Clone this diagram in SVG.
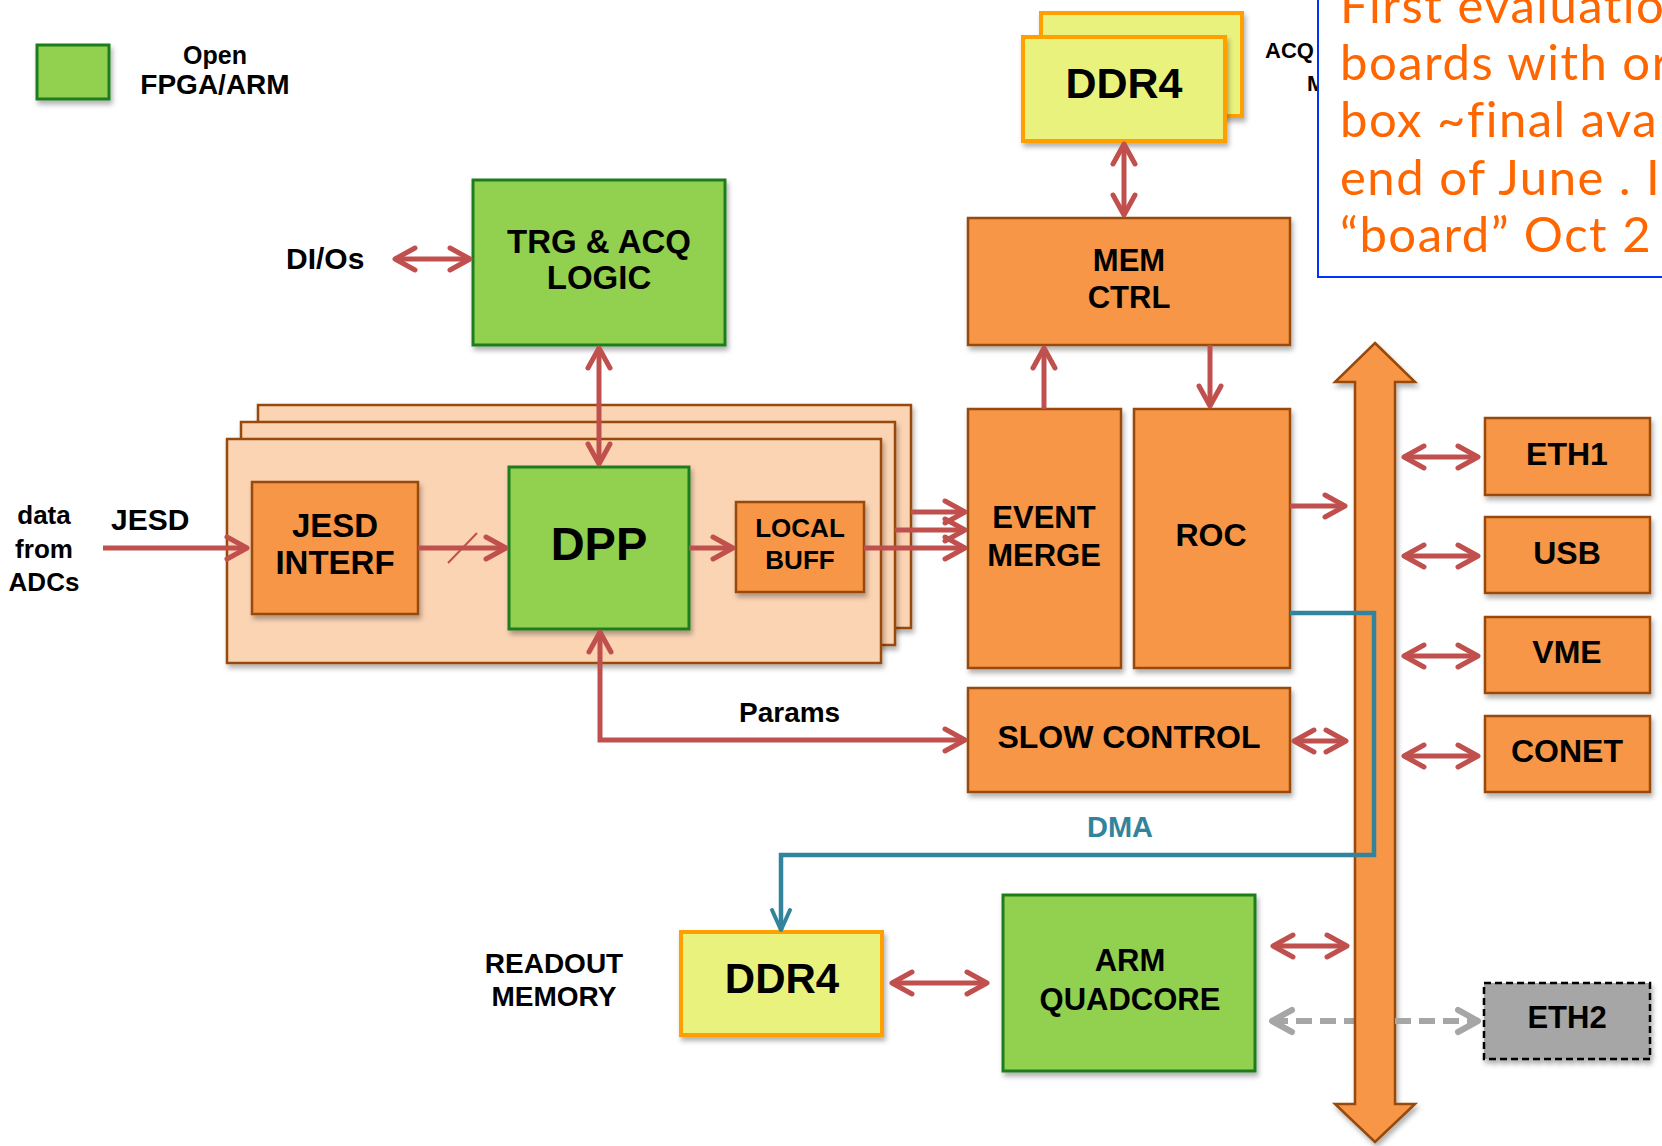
<svg xmlns="http://www.w3.org/2000/svg" width="1662" height="1146" viewBox="0 0 1662 1146">
  <defs>
    <filter id="shadow" x="-10%" y="-10%" width="130%" height="130%">
      <feDropShadow dx="2" dy="4" stdDeviation="2.5" flood-color="#000" flood-opacity="0.3"/>
    </filter>
    <marker id="head" markerUnits="userSpaceOnUse" markerWidth="30" markerHeight="30" viewBox="-24 -15 30 30" refX="0" refY="0" orient="auto-start-reverse" overflow="visible">
      <path d="M -20,-11 L 0,0 L -20,11" fill="none" stroke="#c0504d" stroke-width="5" stroke-linecap="round" stroke-linejoin="round"/>
    </marker>
    <marker id="headGray" markerUnits="userSpaceOnUse" markerWidth="30" markerHeight="30" viewBox="-24 -15 30 30" refX="0" refY="0" orient="auto-start-reverse" overflow="visible">
      <path d="M -20,-11 L 0,0 L -20,11" fill="none" stroke="#a6a6a6" stroke-width="6" stroke-linecap="round" stroke-linejoin="round"/>
    </marker>
    <marker id="headBlue" markerUnits="userSpaceOnUse" markerWidth="30" markerHeight="30" viewBox="-24 -15 30 30" refX="0" refY="0" orient="auto" overflow="visible">
      <path d="M -20,-9 L 0,0 L -20,9" fill="none" stroke="#31849b" stroke-width="4" stroke-linecap="round" stroke-linejoin="round"/>
    </marker>
  </defs>
  <style>
    text { font-family: "Liberation Sans", Arial, sans-serif; font-weight: bold; fill: #000; }
    .c { text-anchor: middle; }
    .orange { fill: #f79646; stroke: #984807; stroke-width: 2.5; filter: url(#shadow); }
    .green { fill: #92d050; stroke: #1e7d1e; stroke-width: 3; filter: url(#shadow); }
    .peach { fill: #fbd4b4; stroke: #984807; stroke-width: 2.5; filter: url(#shadow); }
    .yellow { fill: #eaf27e; stroke: #ffa000; stroke-width: 4; filter: url(#shadow); }
    .gray { fill: #a6a6a6; stroke: #000; stroke-width: 2.5; stroke-dasharray: 7 4; filter: url(#shadow); }
    .link { fill: none; stroke: #c0504d; stroke-width: 5; }
    .dbl { marker-start: url(#head); marker-end: url(#head); }
    .one { marker-end: url(#head); }
    .note { font-family: "Lato", "Open Sans", sans-serif; font-weight: normal; font-size: 49px; letter-spacing: 1.5px; fill: #ff6600; }
  </style>

  <rect width="1662" height="1146" fill="#fff"/>

  <!-- legend -->
  <g id="legend">
    <rect class="green" x="37" y="45" width="72" height="54"/>
    <text class="c" x="215" y="64" font-size="25">Open</text>
    <text class="c" x="215" y="94" font-size="28">FPGA/ARM</text>
  </g>

  <!-- free labels -->
  <g id="labels">
    <text x="286" y="269" font-size="30">DI/Os</text>
    <text class="c" x="44" y="524" font-size="26">data</text>
    <text class="c" x="44" y="558" font-size="26">from</text>
    <text class="c" x="44" y="591" font-size="26">ADCs</text>
    <text x="111" y="530" font-size="30">JESD</text>
    <text x="427" y="512" font-size="28">NxM</text>
    <text x="739" y="722" font-size="28">Params</text>
    <text class="c" x="1120" y="837" font-size="29" style="fill:#31849b">DMA</text>
    <text class="c" x="554" y="973" font-size="28">READOUT</text>
    <text class="c" x="554" y="1006" font-size="28">MEMORY</text>
    <text x="1265" y="58" font-size="22">ACQ</text>
    <text x="1307" y="91" font-size="22">M</text>
  </g>

  <!-- channel cards (stacked) -->
  <g id="channels">
    <rect class="peach" x="258" y="405" width="653" height="223"/>
    <rect class="peach" x="241" y="422" width="654" height="223"/>
    <rect class="peach" x="227" y="439" width="654" height="224"/>
  </g>

  <g id="trg_acq_logic">
    <rect class="green" x="473" y="180" width="252" height="165"/>
    <text class="c" x="599" y="253" font-size="33">TRG &amp; ACQ</text>
    <text class="c" x="599" y="289" font-size="33">LOGIC</text>
  </g>

  <g id="jesd_interf">
    <rect class="orange" x="252" y="482" width="166" height="132"/>
    <text class="c" x="335" y="537" font-size="33">JESD</text>
    <text class="c" x="335" y="574" font-size="33">INTERF</text>
  </g>

  <g id="dpp">
    <rect class="green" x="509" y="467" width="180" height="162"/>
    <text class="c" x="599" y="560" font-size="47">DPP</text>
  </g>

  <g id="local_buff">
    <rect class="orange" x="736" y="502" width="128" height="90"/>
    <text class="c" x="800" y="537" font-size="26">LOCAL</text>
    <text class="c" x="800" y="569" font-size="26">BUFF</text>
  </g>

  <g id="ddr4_acq">
    <rect class="yellow" x="1041" y="13" width="201" height="103"/>
    <rect class="yellow" x="1023" y="37" width="202" height="104"/>
    <text class="c" x="1124" y="98" font-size="43">DDR4</text>
  </g>

  <g id="mem_ctrl">
    <rect class="orange" x="968" y="218" width="322" height="127"/>
    <text class="c" x="1129" y="271" font-size="31">MEM</text>
    <text class="c" x="1129" y="308" font-size="31">CTRL</text>
  </g>

  <g id="event_merge">
    <rect class="orange" x="968" y="409" width="153" height="259"/>
    <text class="c" x="1044" y="528" font-size="31">EVENT</text>
    <text class="c" x="1044" y="566" font-size="31">MERGE</text>
  </g>

  <g id="roc">
    <rect class="orange" x="1134" y="409" width="156" height="259"/>
    <text class="c" x="1211" y="546" font-size="32">ROC</text>
  </g>

  <g id="slow_control">
    <rect class="orange" x="968" y="688" width="322" height="104"/>
    <text class="c" x="1129" y="748" font-size="32">SLOW CONTROL</text>
  </g>

  <g id="ddr4_readout">
    <rect class="yellow" x="681" y="932" width="201" height="103"/>
    <text class="c" x="782" y="993" font-size="42">DDR4</text>
  </g>

  <g id="arm_quadcore">
    <rect class="green" x="1003" y="895" width="252" height="176"/>
    <text class="c" x="1130" y="971" font-size="31">ARM</text>
    <text class="c" x="1130" y="1010" font-size="31">QUADCORE</text>
  </g>

  <g id="eth1">
    <rect class="orange" x="1485" y="418" width="165" height="77"/>
    <text class="c" x="1567" y="465" font-size="32">ETH1</text>
  </g>
  <g id="usb">
    <rect class="orange" x="1485" y="517" width="165" height="76"/>
    <text class="c" x="1567" y="564" font-size="32">USB</text>
  </g>
  <g id="vme">
    <rect class="orange" x="1485" y="617" width="165" height="76"/>
    <text class="c" x="1567" y="663" font-size="32">VME</text>
  </g>
  <g id="conet">
    <rect class="orange" x="1485" y="716" width="165" height="76"/>
    <text class="c" x="1567" y="762" font-size="32">CONET</text>
  </g>
  <g id="eth2">
    <rect class="gray" x="1484" y="983" width="166" height="76"/>
    <text class="c" x="1567" y="1028" font-size="31">ETH2</text>
  </g>

  <!-- dashed link runs under the bus -->
  <g id="under_bus">
    <line x1="1272" y1="1021" x2="1355" y2="1021" fill="none" stroke="#a6a6a6" stroke-width="6" stroke-dasharray="16 8" marker-start="url(#headGray)"/>
  </g>

  <!-- system bus -->
  <g id="bus">
    <polygon class="orange" points="1375,343 1415,382 1395,382 1395,1104 1415,1104 1375,1142 1335,1104 1355,1104 1355,382 1335,382"/>
  </g>

  <!-- connectors -->
  <g id="connectors">
    <line class="link dbl" x1="395" y1="259" x2="470" y2="259"/>
    <line class="link dbl" x1="599" y1="348" x2="599" y2="464"/>
    <line class="link one" x1="103" y1="548" x2="247" y2="548"/>
    <line class="link one" x1="418" y1="548" x2="506" y2="548"/>
    <line x1="448" y1="563" x2="477" y2="533" stroke="#c0504d" stroke-width="2"/>
    <line class="link one" x1="689" y1="548" x2="733" y2="548"/>
    <line class="link one" x1="864" y1="548" x2="965" y2="548"/>
    <line class="link one" x1="895" y1="530" x2="965" y2="530"/>
    <line class="link one" x1="911" y1="512" x2="965" y2="512"/>
    <line class="link one" x1="1044" y1="409" x2="1044" y2="348"/>
    <line class="link one" x1="1210" y1="345" x2="1210" y2="406"/>
    <line class="link dbl" x1="1124" y1="144" x2="1124" y2="215"/>
    <line class="link one" x1="1290" y1="506" x2="1345" y2="506"/>
    <polyline class="link dbl" points="600,632 600,740 965,740"/>
    <line class="link dbl" x1="1294" y1="741" x2="1346" y2="741"/>
    <line class="link dbl" x1="1404" y1="457" x2="1478" y2="457"/>
    <line class="link dbl" x1="1404" y1="556" x2="1478" y2="556"/>
    <line class="link dbl" x1="1404" y1="656" x2="1478" y2="656"/>
    <line class="link dbl" x1="1404" y1="756" x2="1478" y2="756"/>
    <line class="link dbl" x1="892" y1="983" x2="987" y2="983"/>
    <line class="link dbl" x1="1273" y1="946" x2="1347" y2="946"/>
    <line x1="1395" y1="1021" x2="1478" y2="1021" fill="none" stroke="#a6a6a6" stroke-width="6" stroke-dasharray="16 8" marker-end="url(#headGray)"/>
    <polyline points="1290,613 1374,613 1374,855 781,855 781,930" fill="none" stroke="#31849b" stroke-width="4.5" marker-end="url(#headBlue)"/>
  </g>

  <!-- schedule note -->
  <g id="note">
    <rect x="1318" y="-10" width="400" height="287" fill="#fff" stroke="#0033ff" stroke-width="2"/>
    <text class="note" x="1340" y="23">First evaluation</text>
    <text class="note" x="1340" y="80">boards with or</text>
    <text class="note" x="1340" y="137">box ~final ava</text>
    <text class="note" x="1340" y="195">end of June . I</text>
    <text class="note" x="1340" y="252">“board” Oct 2</text>
  </g>
</svg>
